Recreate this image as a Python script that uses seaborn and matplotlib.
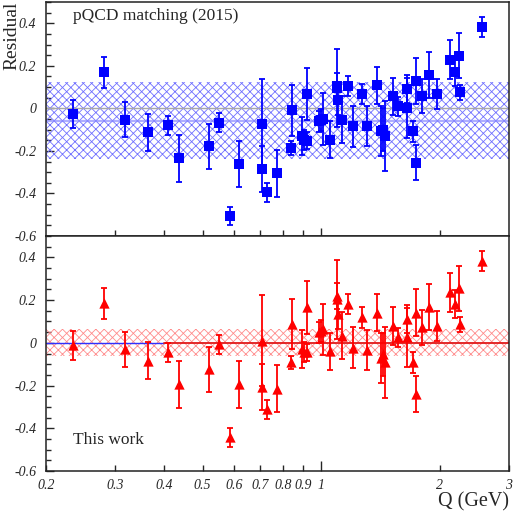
import numpy as np
import pandas as pd
import matplotlib
matplotlib.use("Agg")
import matplotlib.pyplot as plt
import seaborn as sns
from matplotlib.ticker import FixedLocator, NullFormatter, MultipleLocator, FuncFormatter

# --- data ---
q = [0.234, 0.280, 0.318, 0.364, 0.409, 0.435, 0.520, 0.549, 0.586, 0.619,
     0.709, 0.707, 0.730, 0.774, 0.838, 0.845, 0.892, 0.904, 0.922, 0.922,
     0.989, 1.000, 1.009, 1.053, 1.097, 1.100, 1.104, 1.131, 1.172, 1.207,
     1.268, 1.310, 1.388, 1.419, 1.433, 1.452, 1.525, 1.570, 1.649, 1.649,
     1.714, 1.738, 1.742, 1.800, 1.879, 1.972, 2.128, 2.188, 2.240, 2.256,
     2.560]
resid_pqcd = [-0.026, 0.169, -0.053, -0.113, -0.080, -0.234, -0.178, -0.067, -0.506, -0.261,
              -0.073, -0.287, -0.394, -0.305, -0.186, -0.009, -0.131, -0.147, 0.067, -0.151,
              -0.061, -0.055, -0.050, -0.147, 0.096, 0.104, 0.040, -0.053, 0.103, -0.084,
              0.067, -0.081, 0.108, -0.108, -0.100, -0.131, 0.056, 0.009, 0.002, 0.091,
              -0.108, 0.127, -0.256, 0.056, 0.155, 0.067, 0.228, 0.169, 0.247, 0.075,
              0.384]
resid_this = [-0.011, 0.186, -0.030, -0.084, -0.045, -0.194, -0.123, -0.006, -0.443, -0.194,
              0.010, -0.205, -0.311, -0.214, -0.092, 0.088, -0.030, -0.045, 0.166, -0.045,
              0.049, 0.056, 0.064, -0.040, 0.205, 0.220, 0.135, 0.033, 0.181, -0.022,
              0.119, -0.034, 0.142, -0.069, -0.053, -0.092, 0.080, 0.025, 0.025, 0.111,
              -0.092, 0.142, -0.240, 0.072, 0.169, 0.080, 0.236, 0.181, 0.255, 0.088,
              0.384]
err = [0.067, 0.073, 0.082, 0.086, 0.044, 0.110, 0.105, 0.044, 0.044, 0.109,
       0.212, 0.108, 0.045, 0.110, 0.031, 0.119, 0.090, 0.047, 0.123, 0.040,
       0.050, 0.050, 0.120, 0.086, 0.185, 0.060, 0.070, 0.110, 0.047, 0.096,
       0.048, 0.094, 0.087, 0.117, 0.100, 0.164, 0.088, 0.043, 0.140, 0.066,
       0.050, 0.108, 0.083, 0.080, 0.108, 0.070, 0.092, 0.065, 0.105, 0.035,
       0.047]

band_pqcd = (-0.057, 0.179)   # centre, half width
band_this = (0.003, 0.064)

xtick_vals = [0.2, 0.3, 0.4, 0.5, 0.6, 0.7, 0.8, 0.9, 1, 2, 3]
xtick_labels = ["0.2", "0.3", "0.4", "0.5", "0.6", "0.7", "0.8", "0.9", "1", "2", "3"]

df = pd.DataFrame({"Q": q, "pqcd": resid_pqcd, "this": resid_this, "err": err})

sns.set_style("ticks")
plt.rcParams["font.family"] = ["Liberation Serif", "DejaVu Serif"]
plt.rcParams["hatch.linewidth"] = 0.6

fig = plt.figure(figsize=(5.15, 5.15), dpi=100)
ax1 = fig.add_axes([0.0893, 0.5417, 0.899, 0.4544])
ax2 = fig.add_axes([0.0893, 0.0854, 0.899, 0.4563])


def style_axis(ax, show_xlabels):
    ax.set_xscale("log")
    ax.set_xlim(0.2, 3)
    ax.set_ylim(-0.6, 0.5)
    ax.xaxis.set_major_locator(FixedLocator([1]))
    ax.xaxis.set_minor_locator(FixedLocator([0.3, 0.4, 0.5, 0.6, 0.7, 0.8, 0.9, 2]))
    ax.xaxis.set_major_formatter(NullFormatter())
    ax.xaxis.set_minor_formatter(NullFormatter())
    ax.yaxis.set_major_locator(MultipleLocator(0.2))
    ax.yaxis.set_minor_locator(MultipleLocator(0.05))
    ax.yaxis.set_major_formatter(FuncFormatter(
        lambda v, p: "0" if abs(v) < 1e-9 else "%.1f" % v))
    ax.tick_params(which="both", direction="in", top=False, right=False,
                   labelsize=10)
    ax.tick_params(axis="y", pad=7)
    ax.tick_params(which="major", length=6, width=1)
    ax.tick_params(which="minor", length=3.5, width=1)
    ax.tick_params(axis="x", which="minor", length=4.5)
    for lab in ax.get_yticklabels():
        lab.set_style("italic")
    for s in ax.spines.values():
        s.set_linewidth(1.1)
        s.set_color("#222222")
    ax.set_xlabel("")
    ax.set_ylabel("")
    if show_xlabels:
        ax.set_xticks(xtick_vals, xtick_labels, minor=False)
        ax.xaxis.set_minor_locator(FixedLocator([]))
        ax.tick_params(axis="x", which="major", length=4.5, pad=6)
        for lab in ax.get_xticklabels():
            lab.set_style("italic")
        # the "1" tick is longer
        ax.xaxis.get_major_ticks()[8].tick1line.set_markersize(7)


# --- top: pQCD matching ---
lo, hi = band_pqcd[0] - band_pqcd[1], band_pqcd[0] + band_pqcd[1]
ax1.fill_between([0.2, 3], lo, hi, facecolor="none", edgecolor="#7070ff",
                 hatch="xxxx", linewidth=0)
ax1.axhline(0, color="#a8a8a8", lw=1.0)
ax1.axhline(band_pqcd[0], color="#8c8cff", lw=1.6, alpha=0.7)
ax1.errorbar(df["Q"], df["pqcd"], yerr=df["err"], fmt="none", ecolor="#0000ff",
             elinewidth=1.3, capsize=2.4, capthick=1.3)
sns.scatterplot(data=df, x="Q", y="pqcd", marker="s", s=42, color="#0000ff",
                edgecolor="#0000ff", linewidth=0, ax=ax1, zorder=3)
style_axis(ax1, False)
ax1.text(0.058, 0.975, "pQCD matching (2015)", transform=ax1.transAxes,
         ha="left", va="top", fontsize=12.5)

# --- bottom: this work ---
lo, hi = band_this[0] - band_this[1], band_this[0] + band_this[1]
ax2.fill_between([0.2, 3], lo, hi, facecolor="none", edgecolor="#ff8c8c",
                 hatch="xxxx", linewidth=0)
ax2.plot([0.2, 0.4], [0, 0], color="#3030ff", lw=1.0)
ax2.plot([0.4, 3], [0, 0], color="#e01a1a", lw=1.3)
ax2.errorbar(df["Q"], df["this"], yerr=df["err"], fmt="none", ecolor="#ff0000",
             elinewidth=1.3, capsize=2.4, capthick=1.3)
sns.scatterplot(data=df, x="Q", y="this", marker="^", s=55, color="#ff0000",
                edgecolor="#ff0000", linewidth=0, ax=ax2, zorder=3)
style_axis(ax2, True)
ax2.text(0.058, 0.1, "This work", transform=ax2.transAxes,
         ha="left", va="bottom", fontsize=12.5)

fig.text(0.006, 0.996, "Residual", rotation=90, ha="left", va="top", fontsize=14)
fig.text(0.988, 0.006, "Q (GeV)", ha="right", va="bottom", fontsize=14.5)

fig.savefig("out.png", dpi=100)
